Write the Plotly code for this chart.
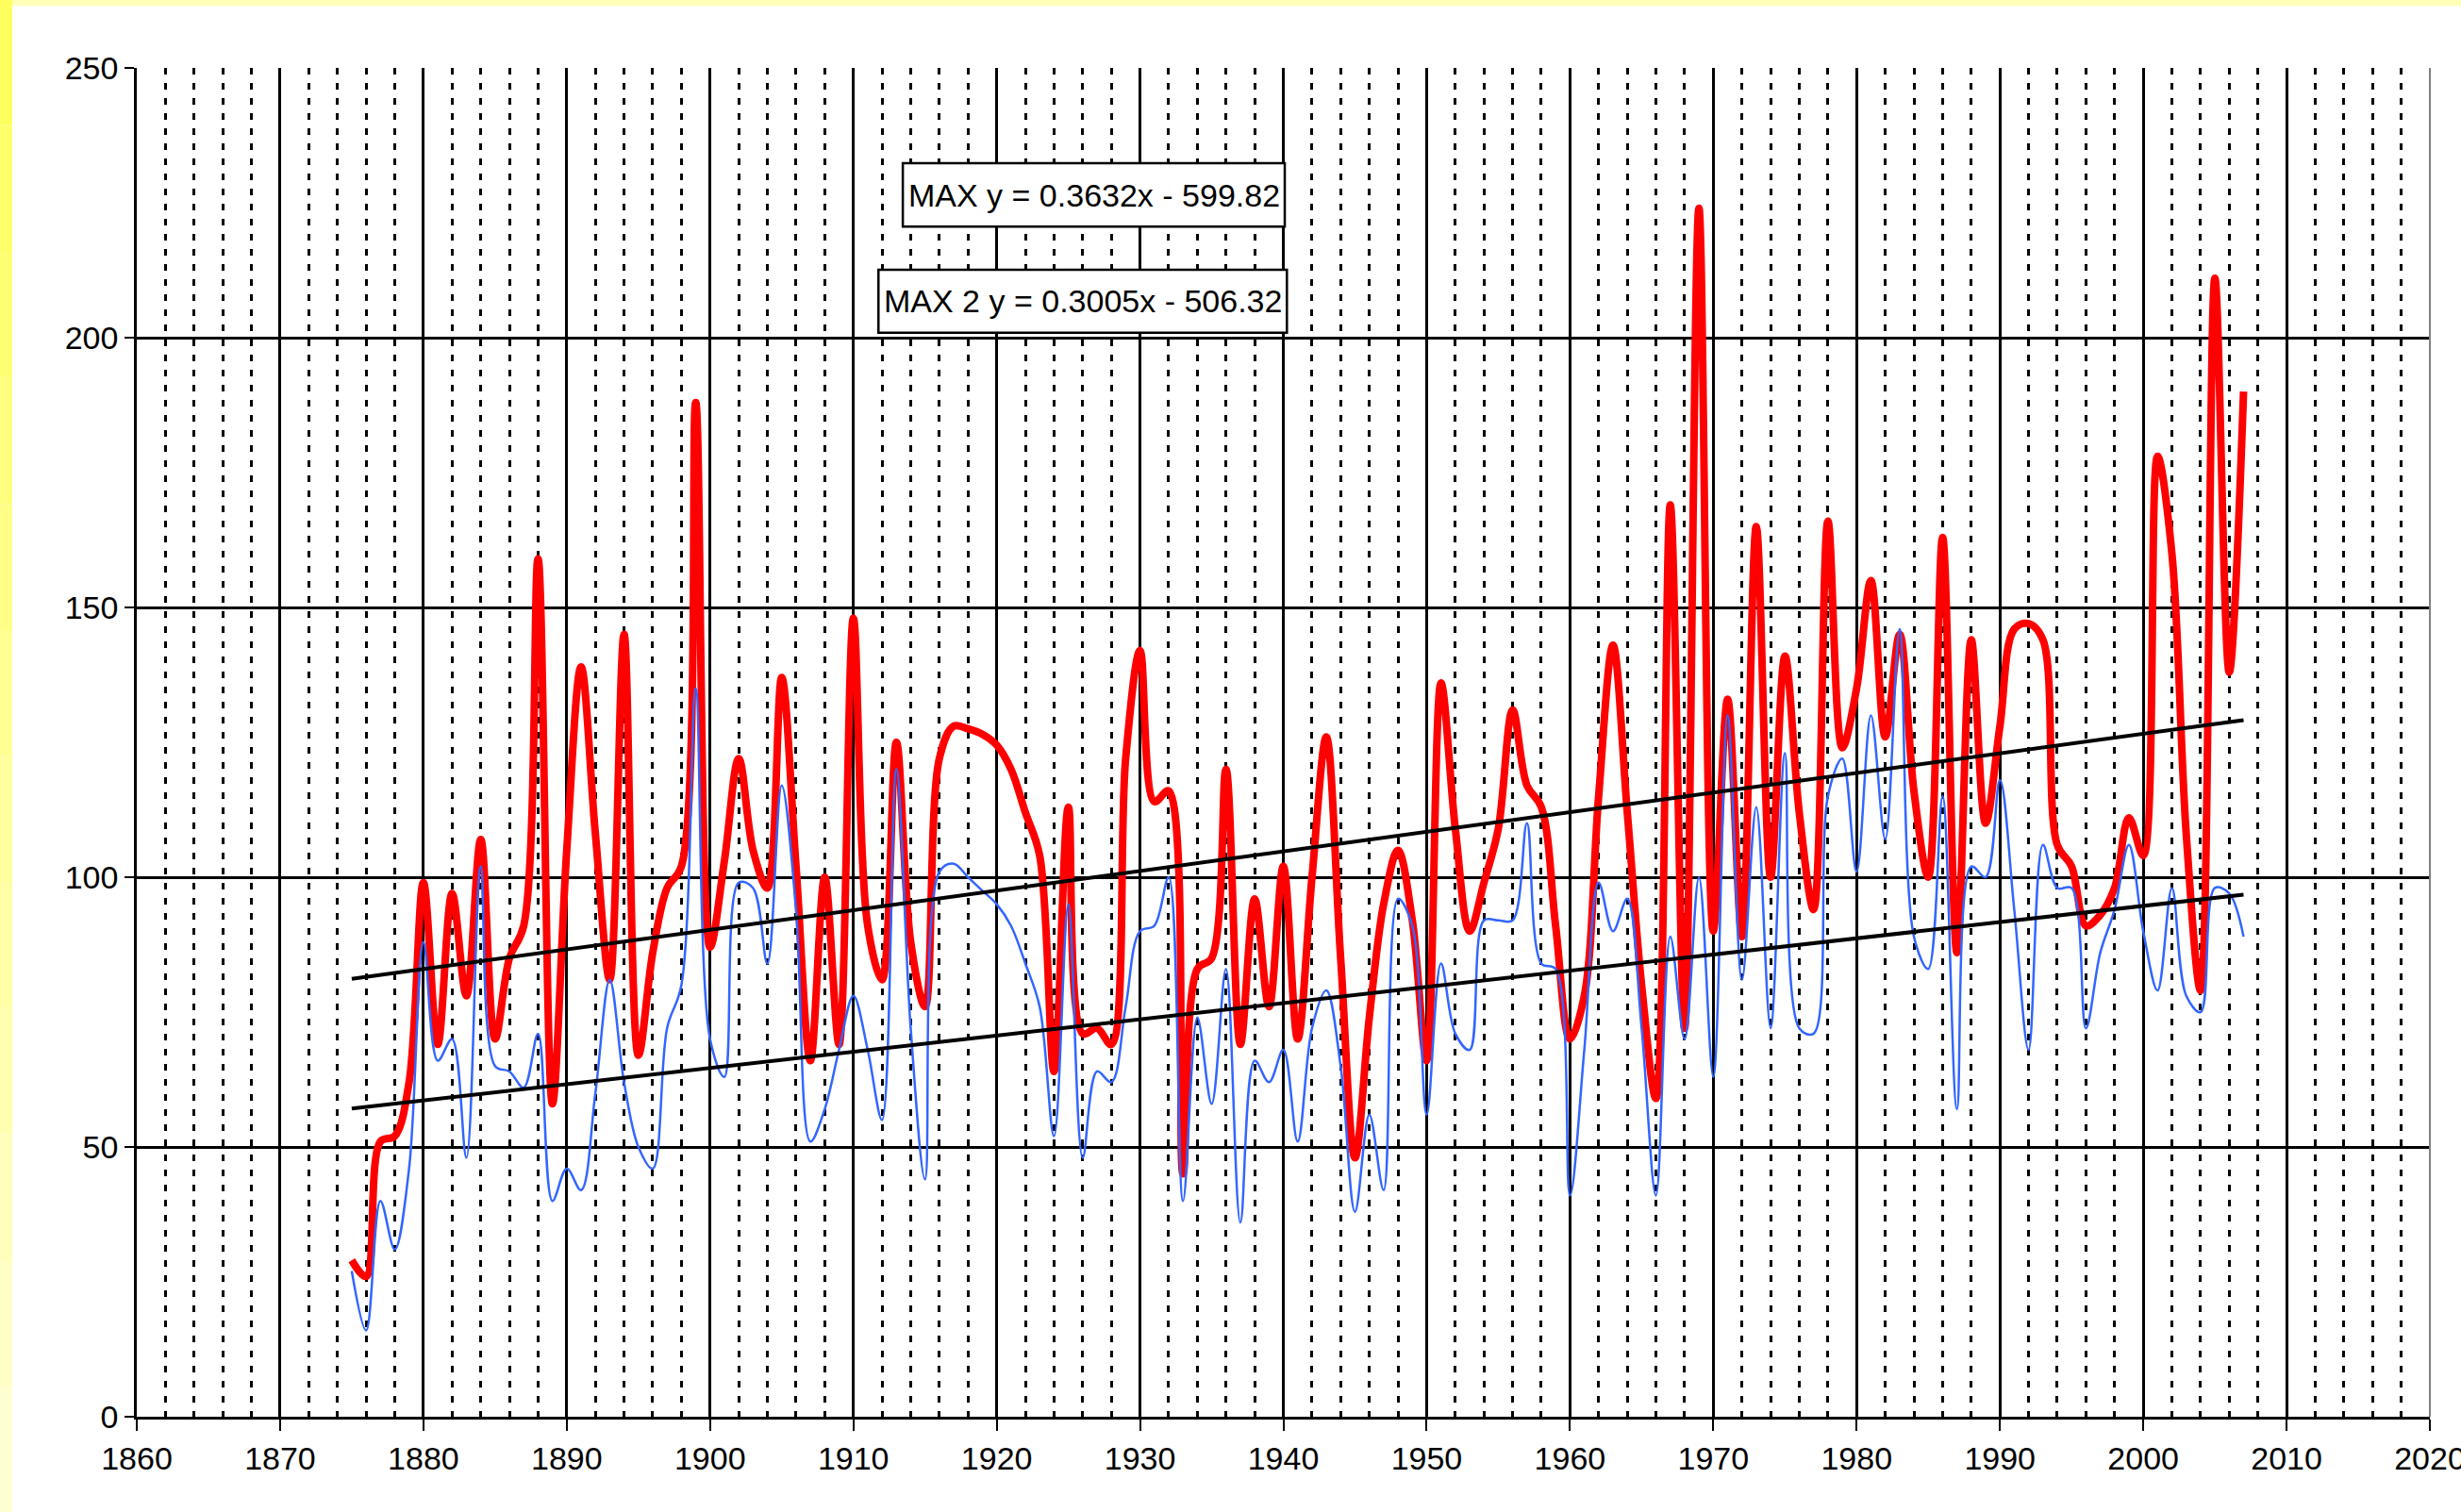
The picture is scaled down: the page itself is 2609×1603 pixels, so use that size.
import plotly.graph_objects as go

years = list(range(1875, 2008))

max_values = [
    29, 26, 51, 52, 62, 99, 69, 97, 78, 107,          # 1875-1884
    70, 85, 91, 159, 58, 105, 139, 108, 81, 145,      # 1885-1894
    67, 86, 98, 102, 188, 87, 103, 122, 105, 98,      # 1895-1904
    137, 102, 66, 100, 69, 148, 91, 81, 125, 88,      # 1905-1914
    76, 122, 128, 127.5, 126.5, 124.5, 120, 112, 104, 64,  # 1915-1924
    113, 71, 72, 69, 122, 142, 114, 116, 45, 83,      # 1925-1934
    85, 120, 69, 96, 76, 102, 70, 100, 126, 85,       # 1935-1944
    48, 74, 95, 105, 92, 66, 136, 109, 90, 99,        # 1945-1954
    109, 131, 117, 113, 91, 70, 78, 115, 143, 112,    # 1955-1964
    80, 59, 169, 72, 224, 90, 133, 89, 165, 100,      # 1965-1974
    141, 112, 94, 166, 124, 135, 155, 126, 145, 116,  # 1975-1984
    100, 163, 86, 144, 110, 128, 146, 147, 144, 106,  # 1985-1994
    102, 91, 93, 98, 111, 104, 178, 160, 108, 79,     # 1995-2004
    211, 138, 190,                                    # 2005-2007
]

max2_values = [
    27, 16, 40, 31, 46, 88, 66, 70, 48, 102,          # 1875-1884
    65, 64, 61, 71, 40, 46, 42, 60, 81, 62,           # 1885-1894
    50, 46, 72, 80, 135, 70, 63, 99, 98, 84,          # 1895-1904
    117, 94, 51, 57, 68, 78, 68, 55, 120, 72,         # 1905-1914
    44, 101, 102.5, 100, 97.5, 95, 91, 84, 76, 52,    # 1915-1924
    95, 48, 64, 62, 76, 90, 91, 100, 40, 74,          # 1925-1934
    58, 83, 36, 66, 62, 68, 51, 72, 79, 65,           # 1935-1944
    38, 56, 42, 96, 91, 56, 84, 71, 68, 92,           # 1945-1954
    92, 92, 110, 84, 83, 41, 68, 99, 90, 96,          # 1955-1964
    72, 41, 89, 70, 100, 63, 130, 81, 113, 72,        # 1965-1974
    123, 72, 71, 115, 122, 101, 130, 107, 146, 89,    # 1975-1984
    83, 115, 57, 102, 100, 118, 94, 68, 106, 98,      # 1985-1994
    98, 72, 86, 94, 106, 90, 79, 98, 78, 75,          # 1995-2004
    98, 97, 89,                                       # 2005-2007
]

# Trend line coefficients (from the chart labels)
max_slope, max_intercept = 0.3632, -599.82
max2_slope, max2_intercept = 0.3005, -506.32

x_ticks = list(range(1860, 2021, 10))
y_ticks = [0, 50, 100, 150, 200, 250]

trend_x = [years[0], years[-1]]
trend_max = [max_slope * x + max_intercept for x in trend_x]
trend_max2 = [max2_slope * x + max2_intercept for x in trend_x]

FONT = "Liberation Sans, Arial, sans-serif"
FS = 34

fig = go.Figure()
fig.add_trace(go.Scatter(x=years, y=max_values, mode="lines", name="MAX",
                         line=dict(color="#FF0000", width=8, shape="spline", smoothing=1.0)))
fig.add_trace(go.Scatter(x=years, y=max2_values, mode="lines", name="MAX 2",
                         line=dict(color="#3366FF", width=2.5, shape="spline", smoothing=1.0)))
fig.add_trace(go.Scatter(x=trend_x, y=trend_max, mode="lines", name="Linear (MAX)",
                         line=dict(color="black", width=4)))
fig.add_trace(go.Scatter(x=trend_x, y=trend_max2, mode="lines", name="Linear (MAX 2)",
                         line=dict(color="black", width=4)))

# equation label boxes
labels = [
    dict(text=f"MAX y = {max_slope}x - {abs(max_intercept):.2f}", box=(1913.45, 1940.1, 220.6, 232.35)),
    dict(text=f"MAX 2 y = {max2_slope}x - {abs(max2_intercept):.2f}", box=(1911.75, 1940.25, 200.9, 212.6)),
]
for lab in labels:
    bx0, bx1, by0, by1 = lab["box"]
    fig.add_shape(type="rect", xref="x", yref="y", x0=bx0, x1=bx1, y0=by0, y1=by1,
                  fillcolor="white", line=dict(color="black", width=2.5), layer="above")
    fig.add_annotation(x=(bx0 + bx1) / 2, y=(by0 + by1) / 2, xref="x", yref="y",
                       xanchor="center", yanchor="middle", text=lab["text"], showarrow=False,
                       font=dict(family=FONT, size=FS, color="black"))

# yellow frame strips at left (fading downward) and top edge
n_seg = 12
for i in range(n_seg):
    t = i / (n_seg - 1)
    b = int(0x60 + t * (0xD0 - 0x60))
    y_top = 1.0504 - i * (1.0504 + 0.0707) / n_seg
    y_bot = 1.0504 - (i + 1) * (1.0504 + 0.0707) / n_seg
    fig.add_shape(type="rect", xref="paper", yref="paper", x0=-0.0597, x1=-0.0543, y0=y_bot, y1=y_top,
                  fillcolor=f"#FFFF{b:02X}", line=dict(width=0), layer="below")
fig.add_shape(type="rect", xref="paper", yref="paper", x0=-0.0543, x1=1.0136, y0=1.0462, y1=1.0504,
              fillcolor="#FFFFB8", line=dict(width=0), layer="below")

fig.update_layout(
    width=2609, height=1603,
    margin=dict(l=145, r=33, t=72, b=101, autoexpand=False),
    paper_bgcolor="white", plot_bgcolor="white",
    showlegend=False,
    font=dict(family=FONT, size=FS, color="black"),
)
fig.update_xaxes(
    range=[1860, 2020], tickmode="array", tickvals=x_ticks, ticktext=[str(t) for t in x_ticks],
    showgrid=True, gridcolor="black", gridwidth=2.5,
    minor=dict(dtick=2, tick0=1860, showgrid=True, gridcolor="black", gridwidth=2.5, griddash="7px,9px"),
    showline=True, linecolor="black", linewidth=2.5, mirror=False,
    ticks="outside", ticklen=12, tickwidth=2, tickcolor="black", ticklabeloverflow="allow",
    tickfont=dict(family=FONT, size=FS, color="black"), zeroline=False, automargin=False,
)
fig.update_yaxes(
    range=[0, 250], tickmode="array", tickvals=y_ticks, ticktext=[str(t) for t in y_ticks],
    showgrid=True, gridcolor="black", gridwidth=2.5,
    showline=True, linecolor="black", linewidth=2.5, mirror=False,
    ticks="outside", ticklen=10, tickwidth=2, tickcolor="black", ticklabeloverflow="allow",
    tickfont=dict(family=FONT, size=FS, color="black"), zeroline=False, automargin=False,
)
# right border of the plot area (gray)
fig.add_shape(type="line", xref="paper", yref="paper", x0=1, x1=1, y0=0, y1=1,
              line=dict(color="#808080", width=2))

fig.write_html("out.html", config={"displayModeBar": False},
               post_script="document.body.style.margin='0';document.body.style.overflow='hidden';")
